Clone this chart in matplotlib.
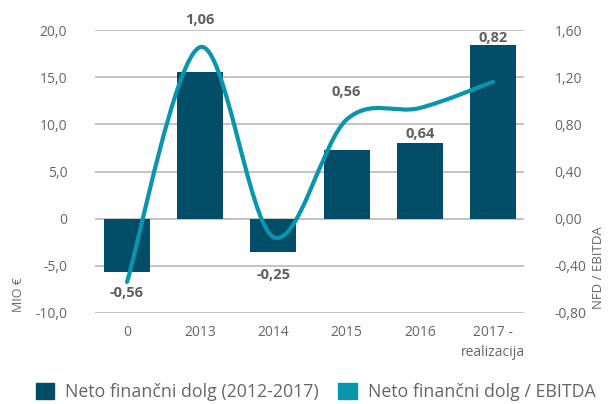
import numpy as np
import matplotlib
matplotlib.use("Agg")
import matplotlib.pyplot as plt
from matplotlib.path import Path
from matplotlib.patches import PathPatch, Patch

plt.rcParams['font.family'] = ['Open Sans', 'DejaVu Sans']

# podatki
categories = ['0', '2013', '2014', '2015', '2016', '2017 -\nrealizacija']
nfd = [-5.7, 15.5, -3.5, 7.3, 8.0, 18.4]          # MIO €
nfd_ebitda = [-0.56, 1.06, -0.25, 0.56, 0.64, 0.82]
label_text = ['-0,56', '1,06', '-0,25', '0,56', '0,64', '0,82']
left_ticks = [-10, -5, 0, 5, 10, 15, 20]
right_ticks = [-0.8, -0.4, 0.0, 0.4, 0.8, 1.2, 1.6]

# postavitev oznak (v enotah leve osi)
label_pos = [-7.85, 21.1, -6.0, 13.4, 9.0, 19.2]

bar_col = '#024d68'
line_col = '#0895ad'
grey = '#666666'


def fmt_left(v):
    return '0' if v == 0 else f'{v:.1f}'.replace('.', ',')


fig = plt.figure(figsize=(6.08, 4.04), dpi=100)
ax = fig.add_axes([95 / 608, 1 - 313 / 404, 429 / 608, 283 / 404])
x = np.arange(len(categories))

ax.bar(x, nfd, width=0.63, color=bar_col, zorder=2)
ax.set_ylim(-10, 20)
ax.set_xlim(-0.437, 5.423)
ax.set_yticks(left_ticks)
ax.set_yticklabels([fmt_left(v) for v in left_ticks])
ax.set_xticks(x)
ax.set_xticklabels(categories, linespacing=1.45)
ax.grid(axis='y', color='#b3b3b3', linewidth=1.1, zorder=0)
ax.set_axisbelow(True)
for s in ax.spines.values():
    s.set_visible(False)
ax.tick_params(axis='both', length=0, labelsize=10, colors=grey)
ax.tick_params(axis='y', pad=20)
ax.tick_params(axis='x', pad=9)

# desna os (samo oznake)
ax2 = ax.twinx()
ax2.set_ylim(-0.8, 1.6)
ax2.set_yticks(right_ticks)
ax2.set_yticklabels([f'{v:.2f}'.replace('.', ',') for v in right_ticks])
ax2.tick_params(axis='y', length=0, labelsize=10, colors=grey, pad=22)
for s in ax2.spines.values():
    s.set_visible(False)

# skrita os za krivuljo
ax3 = ax.twinx()
ax3.set_ylim(-0.774, 1.178)
ax3.axis('off')

# gladka krivulja (Catmull-Rom kot Bezier segmenti)
pts = np.column_stack([x, nfd_ebitda]).astype(float)
verts = [tuple(pts[0])]
codes = [Path.MOVETO]
n = len(pts)
for i in range(n - 1):
    p0 = pts[max(i - 1, 0)]
    p1 = pts[i]
    p2 = pts[i + 1]
    p3 = pts[min(i + 2, n - 1)]
    c1 = p1 + (p2 - p0) / 6
    c2 = p2 - (p3 - p1) / 6
    verts += [tuple(c1), tuple(c2), tuple(p2)]
    codes += [Path.CURVE4] * 3
ax3.add_patch(PathPatch(Path(verts, codes), facecolor='none', edgecolor=line_col,
                        linewidth=3, capstyle='round', zorder=3))

for xi, t, yp in zip(x, label_text, label_pos):
    ax.text(xi, yp, t, ha='center', va='center', fontsize=10.5, fontweight='bold',
            color='#5f5f5f', zorder=4, clip_on=False)

fig.text(18 / 608, 1 - 295 / 404, 'MIO €', rotation=90, ha='center', va='center',
         fontsize=9, color=grey)
fig.text(598 / 608, 1 - 268 / 404, 'NFD / EBITDA', rotation=90, ha='center', va='center',
         fontsize=9.5, color=grey)

handles = [Patch(color=bar_col), Patch(color=line_col)]
fig.legend(handles, ['Neto finančni dolg (2012-2017)', 'Neto finančni dolg / EBITDA'],
           loc='center', bbox_to_anchor=(0.519, 1 - 392 / 404), ncol=2, frameon=False,
           fontsize=12.8, labelcolor=grey, handlelength=1.05, handleheight=1.05,
           handletextpad=0.6, columnspacing=1.1)

fig.savefig('out.png', dpi=100)
